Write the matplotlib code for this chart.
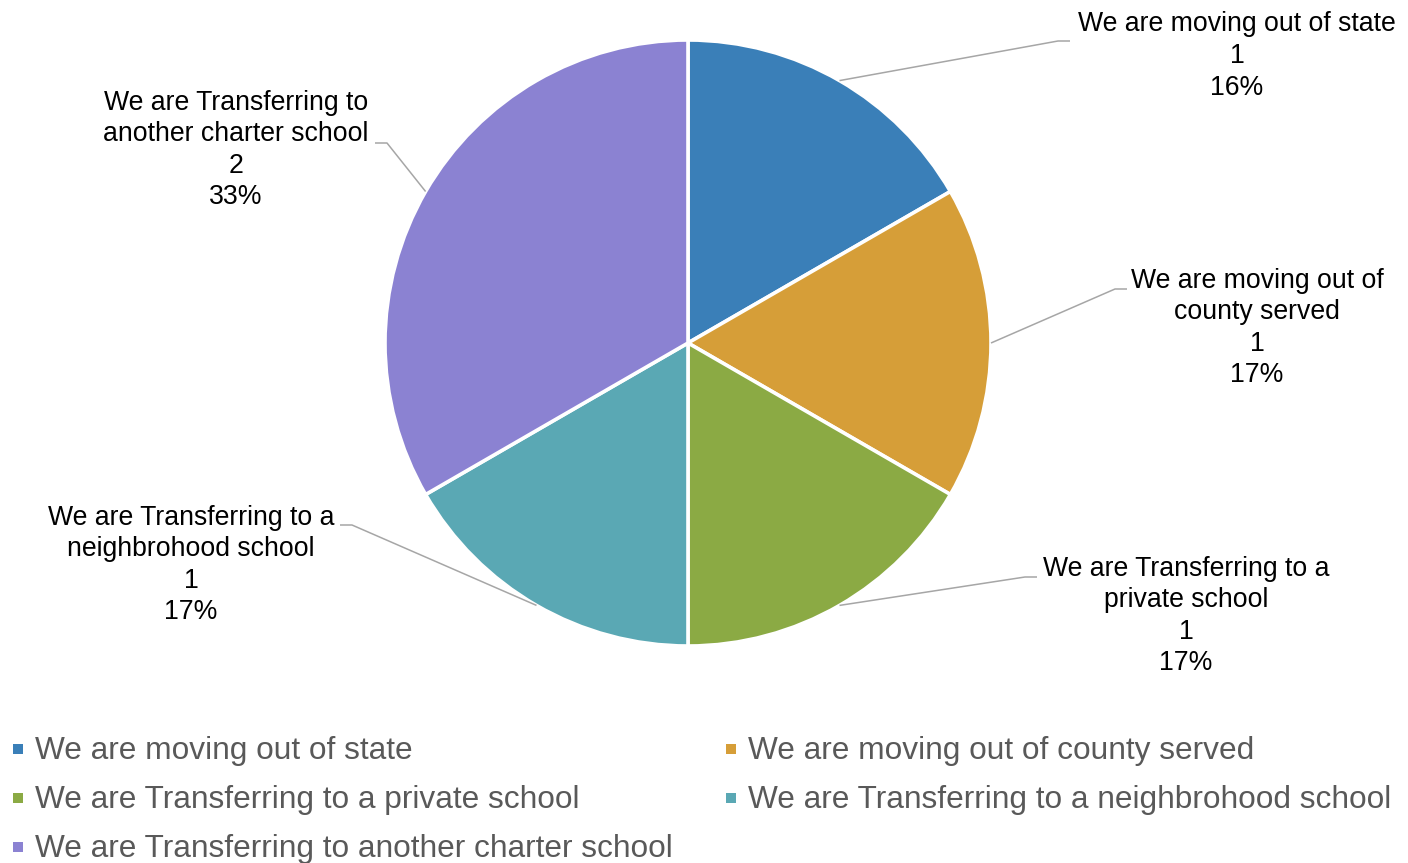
import numpy as np
import matplotlib
matplotlib.use("Agg")
import matplotlib.pyplot as plt
from matplotlib.patches import Rectangle

plt.rcParams['font.family'] = ['Liberation Sans', 'DejaVu Sans']

categories = ["We are moving out of state",
              "We are moving out of county served",
              "We are Transferring to a private school",
              "We are Transferring to a neighbrohood school",
              "We are Transferring to another charter school"]
values = [1, 1, 1, 1, 2]
pct_labels = ["16%", "17%", "17%", "17%", "33%"]
label_text = ["We are moving out of state",
              "We are moving out of\ncounty served",
              "We are Transferring to a\nprivate school",
              "We are Transferring to a\nneighbrohood school",
              "We are Transferring to\nanother charter school"]
colors = ["#3A7FB8", "#D69E38", "#8BAA44", "#5AA8B4", "#8B82D2"]

W, H = 1408, 863
fig = plt.figure(figsize=(W / 100, H / 100), dpi=100)
ax = fig.add_axes([0, 0, 1, 1])

def Y(yp):
    return H - yp

cx, cy, R = 688, 343, 303
wedges, _ = ax.pie(values, colors=colors, startangle=90, counterclock=False,
                   center=(cx, Y(cy)), radius=R, frame=True,
                   wedgeprops=dict(edgecolor='white', linewidth=2.6))
ax.set_xlim(0, W)
ax.set_ylim(0, H)
ax.set_aspect('equal')
ax.axis('off')

# label layout: (text center x, block center y, elbow x, elbow y, end x)
layout = [
    (1237, 56, 1058, 41, 1070),
    (1257, 328, 1115, 289, 1127),
    (1186, 616, 1025, 577, 1037),
    (191, 565, 352, 525, 340),
    (236, 150, 387, 143, 375),
]
for w, lt, v, p, (tx, ty, ex, ey, endx) in zip(wedges, label_text, values, pct_labels, layout):
    ang = np.deg2rad((w.theta1 + w.theta2) / 2)
    sx = cx + R * np.cos(ang)
    sy = Y(cy) + R * np.sin(ang)
    ax.plot([sx, ex, endx], [sy, Y(ey), Y(ey)], color='#A6A6A6', lw=1.1,
            solid_capstyle='butt', zorder=1)
    ax.text(tx, Y(ty), f"{lt}\n{v}\n{p}", ha='center', va='center',
            fontsize=19.2, color='black', linespacing=1.28)

# legend
leg_pos = [(18, 749), (731, 749), (18, 798), (731, 798), (18, 847)]
for (lx, ly), c, name in zip(leg_pos, colors, categories):
    ax.add_patch(Rectangle((lx - 5, Y(ly) - 5), 10, 10, facecolor=c, edgecolor='none'))
    ax.text(lx + 17, Y(ly) - 2, name, ha='left', va='center', fontsize=22.8,
            color='#595959')

fig.savefig("out.png", dpi=100)
